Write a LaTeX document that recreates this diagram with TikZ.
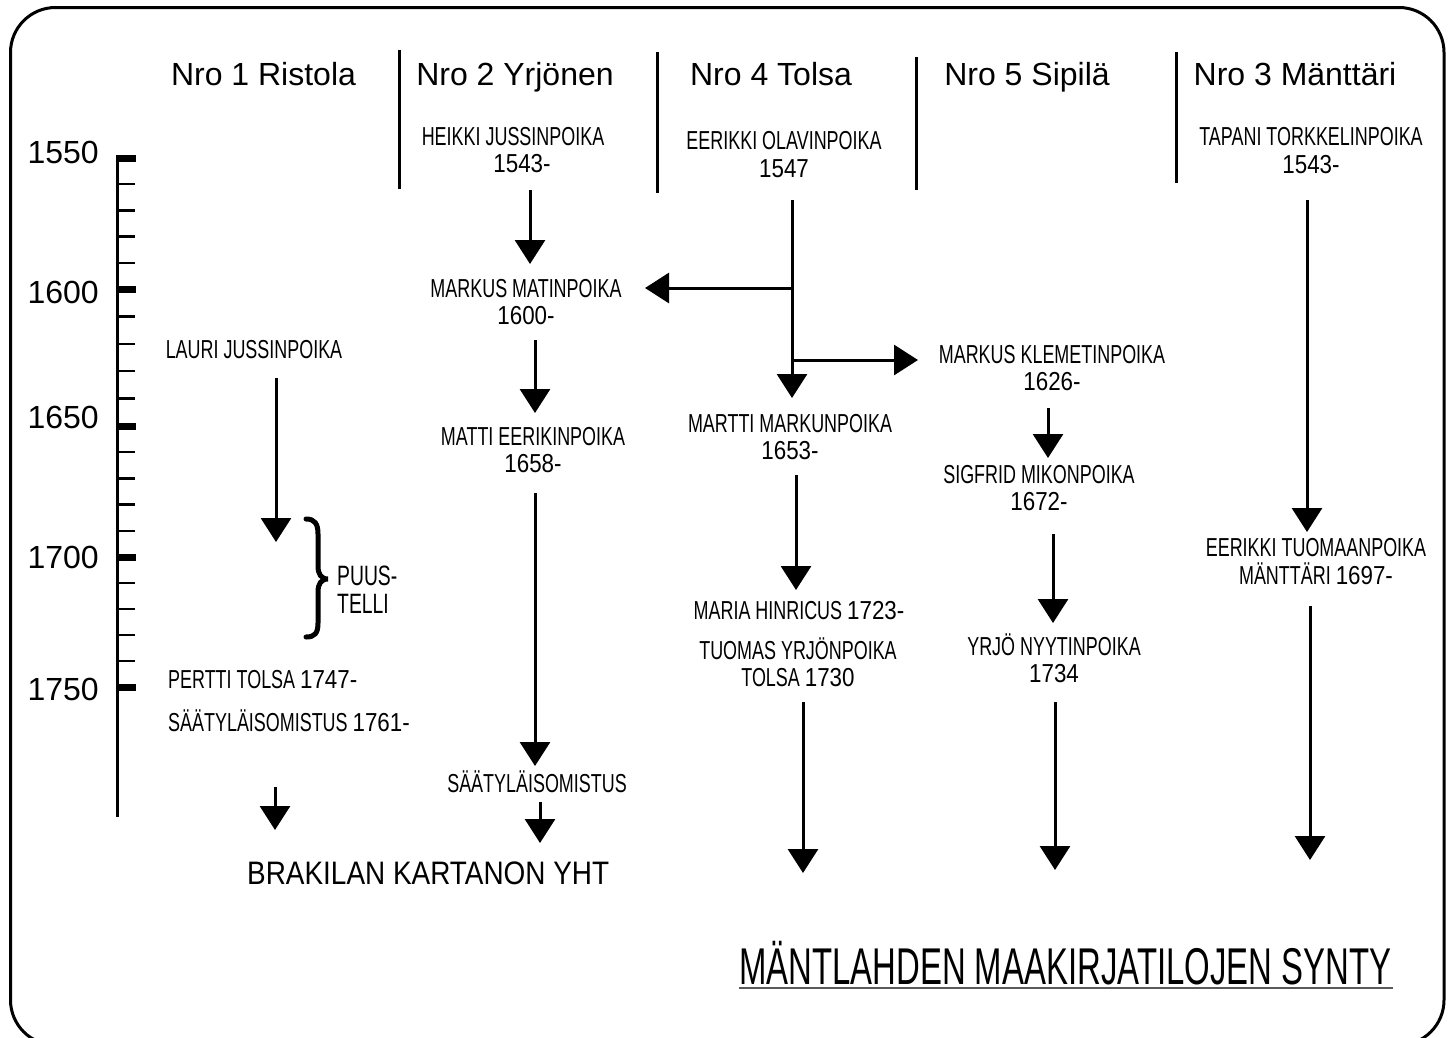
\documentclass[tikz,border=0pt]{standalone}
\usepackage{fontspec}
\usepackage{graphicx}
\setmainfont{Liberation Sans}
\newfontfamily\namefont[FakeStretch=0.69]{Liberation Sans}
\newfontfamily\digfont[FakeStretch=0.86]{Liberation Sans}
\usetikzlibrary{arrows.meta}
\newcommand\dg[1]{{\digfont #1}}
\newcommand\sm[1]{\smash{#1}\vphantom{H}}
\tikzset{
  nm/.style={inner sep=0pt, align=center, font=\namefont\fontsize{26}{27.5}\selectfont},
  hd/.style={inner sep=0pt, anchor=base, font=\fontsize{32}{36}\selectfont},
  yr/.style={inner sep=0pt, anchor=base east, font=\fontsize{32}{36}\selectfont},
  big/.style={inner sep=0pt, anchor=base west},
  arr/.style={line width=3pt, -{Triangle[length=24pt,width=30pt]}},
  thick line/.style={line width=3pt},
}
\begin{document}
\begin{tikzpicture}[x=1pt,y=-1pt]
\useasboundingbox (0,0) rectangle (1453,1037);
\clip (0,0) rectangle (1453,1037);
% frame
\draw[line width=3pt, rounded corners=45pt] (10.5,7.5) rectangle (1444,1045);
% column separators
\draw[thick line] (399,50) -- (399,189);
\draw[thick line] (657,52) -- (657,193);
\draw[thick line] (916,57) -- (916,190);
\draw[thick line] (1176,52) -- (1176,183);
% headers
\node[hd] (h1) at (263.5,85) {Nro 1 Ristola};
\node[hd] (h2) at (515,85) {Nro 2 Yrjönen};
\node[hd] (h4) at (771,85) {Nro 4 Tolsa};
\node[hd] (h5) at (1027,85) {Nro 5 Sipilä};
\node[hd] (h3) at (1295,85) {Nro 3 Mänttäri};
% timeline
\draw[thick line] (117,155) -- (117,817);
\foreach \a/\b in {158/289, 289/426, 426/557, 557/687}{
  \foreach \k in {1,2,3,4}{
    \draw[line width=2.5pt] (117,{\a+(\b-\a)*\k/5}) -- (135,{\a+(\b-\a)*\k/5});
  }
}
\foreach \t in {158,289,426,557,687}{
  \draw[line width=7pt] (117,\t) -- (136,\t);
}
\node[yr] (y1550) at (99,163) {1550};
\node[yr] (y1600) at (99,303) {1600};
\node[yr] (y1650) at (99,428) {1650};
\node[yr] (y1700) at (99,568) {1700};
\node[yr] (y1750) at (99,700) {1750};
% column 1
\node[nm,anchor=base] (lauri) at (254,358) {LAURI JUSSINPOIKA};
\node[nm,align=left,anchor=west,font=\namefont\fontsize{28}{27.5}\selectfont] (puus) at (337,590) {\sm{PUUS-}\\\sm{TELLI}};
\node[nm,anchor=base west] (pertti) at (168,688) {PERTTI TOLSA \dg{1747-}};
\node[nm,anchor=base west] (saaty1) at (168,731) {SÄÄTYLÄISOMISTUS \dg{1761-}};
\draw[line width=5pt, line cap=round] (306,519) .. controls (315,519) and (318,524) .. (318,534)
  -- (318,566) .. controls (318,574) and (321,579) .. (328,579)
  .. controls (321,579) and (318,584) .. (318,592)
  -- (318,623) .. controls (318,633) and (315,637) .. (306,637);
% column 2
\node[nm] (heikki) at (513,150) {\sm{HEIKKI JUSSINPOIKA}\\\hspace*{18pt}\sm{\dg{1543-}}};
\node[nm] (markus) at (526,302) {\sm{MARKUS MATINPOIKA}\\\sm{\dg{1600-}}};
\node[nm] (matti) at (533,450) {\sm{MATTI EERIKINPOIKA}\\\sm{\dg{1658-}}};
\node[nm,anchor=base] (saaty2) at (537,792) {SÄÄTYLÄISOMISTUS};
\node[big,font=\fontsize{32.5}{36}\selectfont] (brak) at (247,884) {\resizebox{362pt}{\height}{BRAKILAN KARTANON YHT}};
% column 4
\node[nm] (eerikki) at (784,154.5) {\sm{EERIKKI OLAVINPOIKA}\\\sm{\dg{1547}}};
\node[nm] (martti) at (790,437) {\sm{MARTTI MARKUNPOIKA}\\\sm{\dg{1653-}}};
\node[nm,anchor=base] (maria) at (799,619) {MARIA HINRICUS \dg{1723-}};
\node[nm] (tuomas) at (798,664) {\sm{TUOMAS YRJÖNPOIKA}\\\sm{TOLSA \dg{1730}}};
% column 5
\node[nm] (klemet) at (1052,368) {\sm{MARKUS KLEMETINPOIKA}\\\sm{\dg{1626-}}};
\node[nm] (sigfrid) at (1039,488) {\sm{SIGFRID MIKONPOIKA}\\\sm{\dg{1672-}}};
\node[nm] (yrjo) at (1054,660) {\sm{YRJÖ NYYTINPOIKA}\\\sm{\dg{1734}}};
% column 3
\node[nm] (tapani) at (1311,150.5) {\sm{TAPANI TORKKELINPOIKA}\\\sm{\dg{1543-}}};
\node[nm] (tuomaan) at (1316,561.5) {\sm{EERIKKI TUOMAANPOIKA}\\\sm{MÄNTTÄRI \dg{1697-}}};
% title
\node[big,font=\fontsize{51.7}{56}\selectfont] (title) at (739,984) {\resizebox{652pt}{\height}{MÄNTLAHDEN MAAKIRJATILOJEN SYNTY}};
\draw[line width=2.5pt, black!65] (739,988) -- (1393,988);
% connector end points
\coordinate (a1s) at (530,190); \coordinate (a1e) at (530,264);
\coordinate (a2s) at (535,340); \coordinate (a2e) at (535,413);
\coordinate (a3s) at (535,493); \coordinate (a3e) at (535,766);
\coordinate (a4s) at (540,802); \coordinate (a4e) at (540,843);
\coordinate (b1s) at (276,378); \coordinate (b1e) at (276,542);
\coordinate (b2s) at (275,787); \coordinate (b2e) at (275,830);
\coordinate (c0) at (792,200); \coordinate (c1) at (792,398);
\coordinate (cl) at (792,288); \coordinate (cle) at (645,288);
\coordinate (cr) at (792,360); \coordinate (cre) at (918,360);
\coordinate (c2s) at (796,475); \coordinate (c2e) at (796,590);
\coordinate (c3s) at (803,702); \coordinate (c3e) at (803,873);
\coordinate (d1s) at (1048,408); \coordinate (d1e) at (1048,458);
\coordinate (d2s) at (1053,534); \coordinate (d2e) at (1053,623);
\coordinate (d3s) at (1055,702); \coordinate (d3e) at (1055,870);
\coordinate (e1s) at (1307,200); \coordinate (e1e) at (1307,532);
\coordinate (e2s) at (1310,606); \coordinate (e2e) at (1310,860);
% connectors
\draw[arr] (a1s) -- (a1e);
\draw[arr] (a2s) -- (a2e);
\draw[arr] (a3s) -- (a3e);
\draw[arr] (a4s) -- (a4e);
\draw[arr] (b1s) -- (b1e);
\draw[arr] (b2s) -- (b2e);
\draw[arr] (c0) -- (c1);
\draw[arr] (cl) -- (cle);
\draw[arr] (cr) -- (cre);
\draw[arr] (c2s) -- (c2e);
\draw[arr] (c3s) -- (c3e);
\draw[arr] (d1s) -- (d1e);
\draw[arr] (d2s) -- (d2e);
\draw[arr] (d3s) -- (d3e);
\draw[arr] (e1s) -- (e1e);
\draw[arr] (e2s) -- (e2e);
\end{tikzpicture}
\end{document}
